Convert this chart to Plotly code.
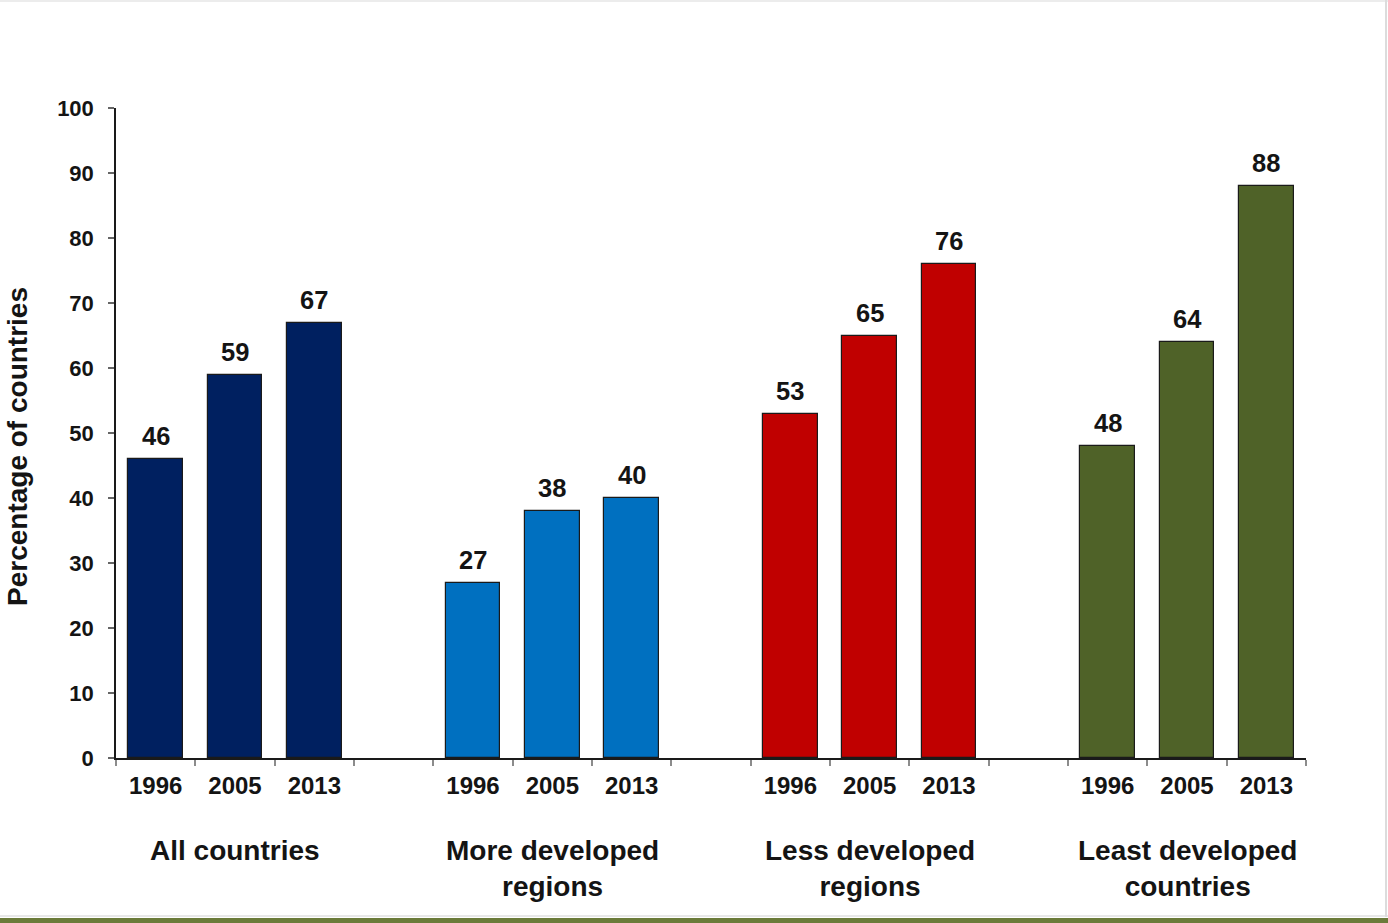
import plotly.graph_objects as go

groups = ["All countries", "More developed<br>regions", "Less developed<br>regions", "Least developed<br>countries"]
years = ["1996", "2005", "2013"]
values = {
    "All countries": [46, 59, 67],
    "More developed<br>regions": [27, 38, 40],
    "Less developed<br>regions": [53, 65, 76],
    "Least developed<br>countries": [48, 64, 88],
}
colors = ["#002060", "#0070C0", "#C00000", "#4F6228"]
yticks = list(range(0, 101, 10))

W, H = 1388, 923
L, R, T, B = 116, 82, 108, 165
PW, PH = W - L - R, H - T - B

fig = go.Figure()
font = "Liberation Sans, Arial, sans-serif"
ink = "#141414"
centers = []
for gi, g in enumerate(groups):
    xs = [gi * 4 + k + 0.5 for k in range(3)]
    centers += xs
    fig.add_trace(go.Bar(
        x=xs, y=values[g], marker=dict(color=colors[gi], line=dict(color="#1a1a1a", width=1.2)),
        width=0.69, showlegend=False, xaxis="x", hoverinfo="x+y"))
    for x, v in zip(xs, values[g]):
        fig.add_annotation(x=x, y=v, xref="x", yref="y", yanchor="bottom", yshift=7,
                           text=f"<b>{v}</b>", showarrow=False,
                           font=dict(family=font, size=25.5, color=ink))
    fig.add_annotation(x=gi * 4 + 1.5, xref="x", y=-0.115, yref="paper", yanchor="top",
                       text=f"<b>{g}</b>", showarrow=False,
                       font=dict(family=font, size=28, color=ink))

fig.add_trace(go.Scatter(x=centers, y=[None] * len(centers), xaxis="x2", showlegend=False))


def py(pix):
    return (758 - pix) / PH


def px(pix):
    return (pix - L) / PW


fig.add_annotation(x=px(17), y=py(447), xref="paper", yref="paper", textangle=-90,
                   xanchor="center", yanchor="middle",
                   text="<b>Percentage of countries</b>", showarrow=False,
                   font=dict(family=font, size=28, color=ink))

fig.update_layout(
    width=W, height=H, margin=dict(l=L, r=R, t=T, b=B),
    plot_bgcolor="white", paper_bgcolor="white",
    xaxis=dict(range=[0, 15], tickvals=list(range(16)), ticks="outside", ticklen=6,
               tickcolor="#8c8c8c", tickwidth=1.5, showticklabels=False, showgrid=False,
               zeroline=False, showline=True, linecolor="#1a1a1a", linewidth=1.5),
    xaxis2=dict(range=[0, 15], overlaying="x", anchor="y", side="bottom",
                tickvals=centers, ticktext=[f"<b>{y}</b>" for y in years] * 4,
                ticks="", showgrid=False, zeroline=False, showline=False,
                tickfont=dict(family=font, size=24, color=ink), ticklabelstandoff=11),
    yaxis=dict(range=[0, 100], tickvals=yticks, ticktext=[f"<b>{t}</b>" for t in yticks],
               ticks="outside", ticklen=6, tickcolor="#666", tickwidth=1.5, showgrid=False,
               zeroline=False, showline=True, linecolor="#1a1a1a", linewidth=1.5,
               tickfont=dict(family=font, size=22, color=ink), ticklabelstandoff=10),
    bargap=0,
    shapes=[
        dict(type="rect", xref="paper", yref="paper", x0=px(0), x1=px(W),
             y0=py(918), y1=py(924), fillcolor="#6b7b3a", line=dict(width=0)),
        dict(type="line", xref="paper", yref="paper", x0=px(0), x1=px(W),
             y0=py(916), y1=py(916), line=dict(color="#e0e0e0", width=1.5)),
        dict(type="line", xref="paper", yref="paper", x0=px(0), x1=px(W),
             y0=py(1), y1=py(1), line=dict(color="#ececec", width=2)),
        dict(type="line", xref="paper", yref="paper", x0=px(1386), x1=px(1386),
             y0=py(0), y1=py(917), line=dict(color="#dcdcdc", width=2)),
    ],
)

fig.write_html("out.html", config={"displayModeBar": False},
               post_script="document.body.style.margin='0px';document.body.style.padding='0px';")
